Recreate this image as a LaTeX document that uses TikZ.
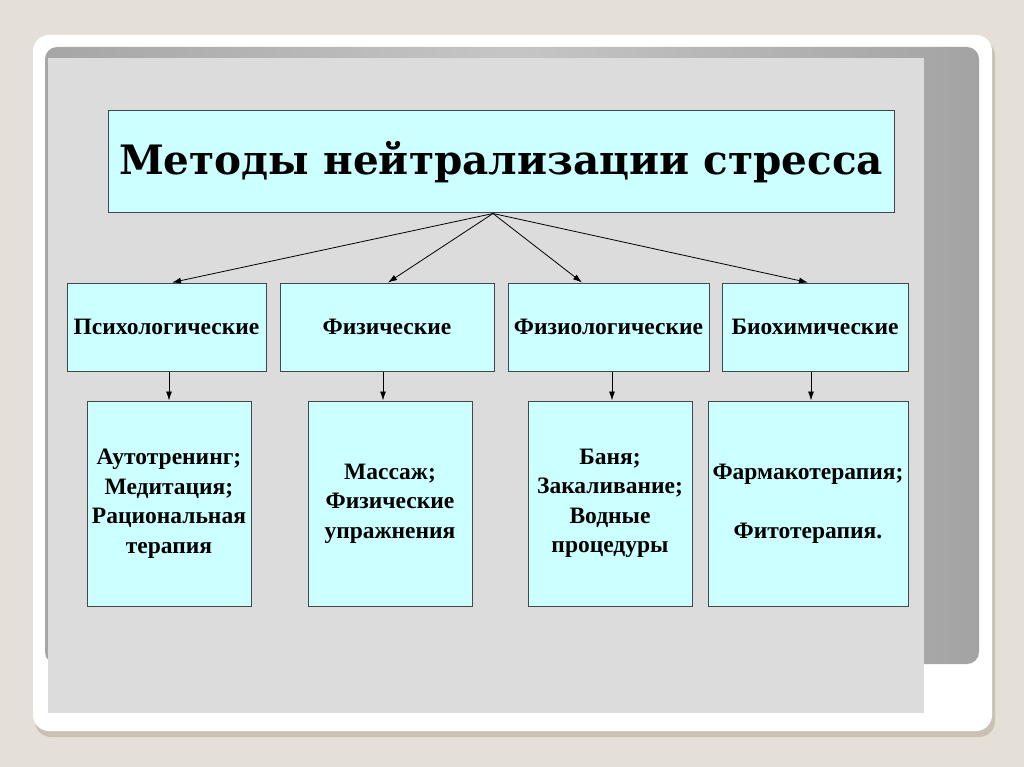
\documentclass[tikz,border=0pt]{standalone}
\usepackage{fontspec}
\setmainfont{Liberation Serif}
\newfontfamily\titlefont{DejaVu Serif}
\usetikzlibrary{arrows.meta,calc}
\definecolor{bgc}{HTML}{E5E0D7}
\definecolor{shadowc}{HTML}{C9C1B4}
\definecolor{slidec}{HTML}{DCDCDC}
\definecolor{boxfill}{HTML}{CCFFFF}
\definecolor{boxline}{HTML}{404848}
\tikzset{
  box/.style={draw=boxline, line width=1pt, fill=boxfill, rectangle, inner sep=0pt, align=center,
    font=\fontsize{23.5}{29.5}\selectfont\bfseries},
  arr/.style={draw=black, line width=0.8pt, -{Latex[length=9pt,width=6pt]}},
}
\begin{document}
\begin{tikzpicture}[x=1pt,y=-1pt]
\useasboundingbox (0,0) rectangle (1024,767);
% background
\fill[bgc] (0,0) rectangle (1024,767);
% frame shadow
\fill[shadowc, rounded corners=16pt] (35,40) rectangle (995,737);
% white frame
\fill[white, rounded corners=16pt] (33,35) rectangle (992,731);
% darker gray panel
\shade[rounded corners=12pt, left color=gray!70, right color=gray!72, middle color=gray!45] (45,47) rectangle (979,664);
% slide
\fill[slidec] (48,58) rectangle (924,713);
% title
\node[box, minimum width=786pt, minimum height=102pt, font=\titlefont\fontsize{40.5}{40}\selectfont\bfseries] (title) at (501,162) {Методы нейтрализации стресса};
% middle row
\node[box, minimum width=199pt, minimum height=88pt] (m1) at (166.5,327) {Психологические};
\node[box, minimum width=214pt, minimum height=88pt] (m2) at (387,327) {Физические};
\node[box, minimum width=201pt, minimum height=88pt] (m3) at (608.5,327) {Физиологические};
\node[box, minimum width=186pt, minimum height=88pt] (m4) at (815,327) {Биохимические};
% bottom row
\node[box, minimum width=164pt, minimum height=205pt] (b1) at (169,503.5) {Аутотренинг;\\Медитация;\\Рациональная\\терапия};
\node[box, minimum width=164pt, minimum height=205pt] (b2) at (390,503.5) {Массаж;\\Физические\\упражнения};
\node[box, minimum width=164pt, minimum height=205pt] (b3) at (610,503.5) {Баня;\\Закаливание;\\Водные\\процедуры};
\node[box, minimum width=200pt, minimum height=205pt] (b4) at (808,503.5) {Фармакотерапия;\\[29.5pt]Фитотерапия.};
% connectors
\coordinate (apex) at ($(title.south)+(-8,0)$);
\draw[arr] (apex) -- ($(m1.north)+(5.5,0)$);
\draw[arr] (apex) -- ($(m2.north)+(1,0)$);
\draw[arr] (apex) -- ($(m3.north)+(-26.5,0)$);
\draw[arr] (apex) -- ($(m4.north)+(-7,0)$);
\draw[arr] (b1.north |- m1.south) -- (b1.north);
\draw[arr] ($(b2.north |- m2.south)+(-7,0)$) -- ($(b2.north)+(-7,0)$);
\draw[arr] ($(b3.north |- m3.south)+(2,0)$) -- ($(b3.north)+(2,0)$);
\draw[arr] ($(b4.north |- m4.south)+(3,0)$) -- ($(b4.north)+(3,0)$);
\end{tikzpicture}
\end{document}
